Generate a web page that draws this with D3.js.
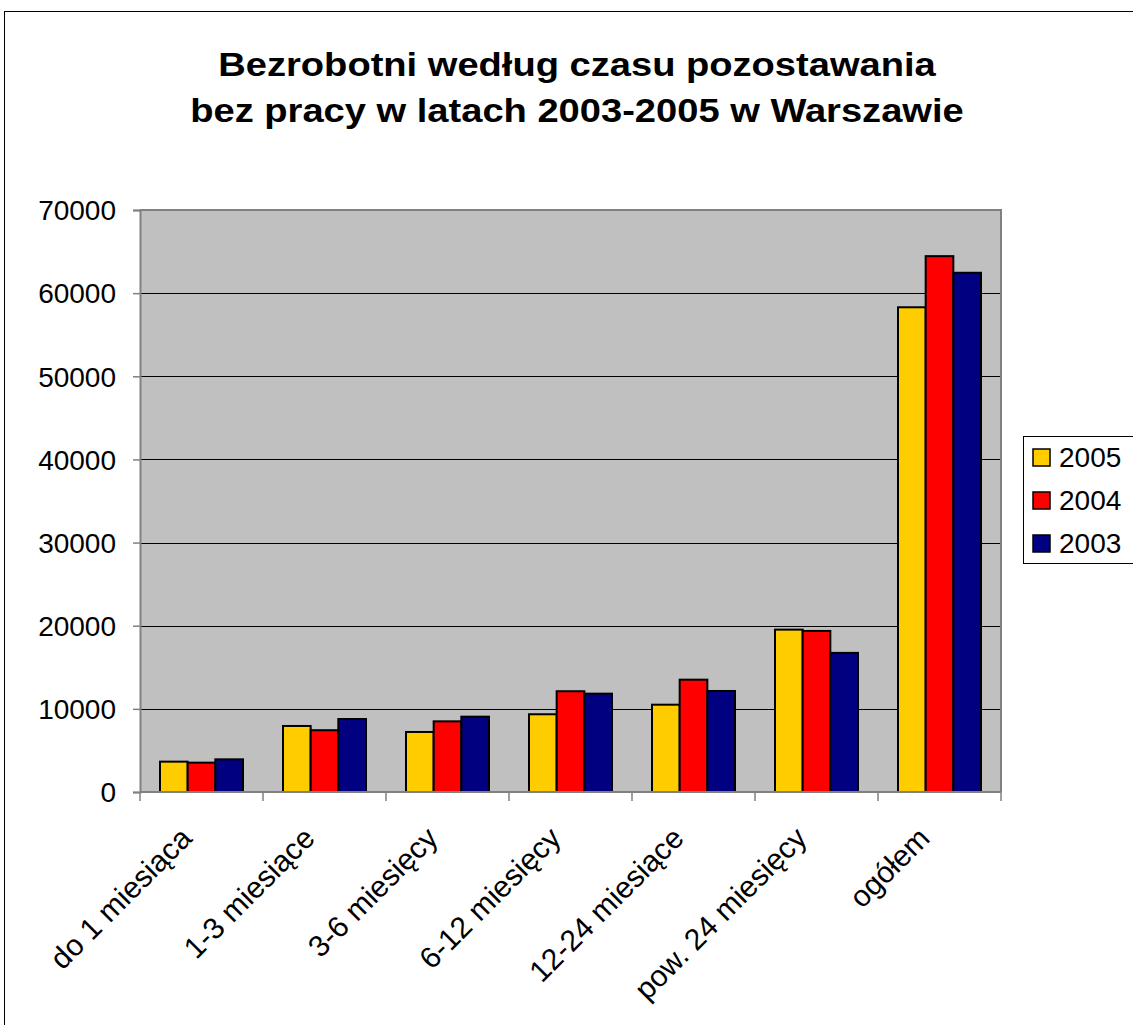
<!DOCTYPE html>
<html>
<head>
<meta charset="utf-8">
<script src="https://cdn.jsdelivr.net/npm/d3@7/dist/d3.min.js"></script>
<style>
    body { margin: 0; background: #fff; }
    text { font-family: "Liberation Sans", Arial, sans-serif; fill: #000; }
</style>
</head>
<body>
<svg id="chart" width="1133" height="1025"></svg>
<script>
// data
var categories = ["do 1 miesiąca", "1-3 miesiące", "3-6 miesięcy", "6-12 miesięcy", "12-24 miesiące", "pow. 24 miesięcy", "ogółem"];
var seriesNames = ["2005", "2004", "2003"];
var seriesColors = ["#FFCC00", "#FF0000", "#000080"];
var values2005 = [3650, 7940, 7220, 9350, 10500, 19530, 58300];
var values2004 = [3530, 7430, 8500, 12120, 13510, 19370, 64450];
var values2003 = [3930, 8780, 9060, 11830, 12150, 16730, 62450];
var yTicks = [0, 10000, 20000, 30000, 40000, 50000, 60000, 70000];
var titleLines = ["Bezrobotni według czasu pozostawania", "bez pracy w latach 2003-2005 w Warszawie"];

var seriesValues = [values2005, values2004, values2003];

var svg = d3.select("#chart");
var plot = {left: 140, right: 1001, top: 210, bottom: 792};

// outer chart frame (runs off the right and bottom edge)
svg.append("rect")
    .attr("x", 4.5).attr("y", 11.5)
    .attr("width", 1200).attr("height", 1100)
    .attr("fill", "none")
    .attr("stroke", "#000")
    .attr("stroke-width", 1);

// title
svg.selectAll(".title")
    .data(titleLines)
    .enter().append("text")
    .attr("class", "title")
    .attr("text-anchor", "middle")
    .attr("font-weight", "bold")
    .attr("font-size", "33px")
    .attr("transform", function (d, i) {
        return "translate(577," + (76 + i * 46) + ") scale(1.155,1)";
    })
    .text(function (d) { return d; });

var x0 = d3.scaleBand()
    .domain(categories)
    .range([plot.left, plot.right]);

var gap = 20;
var x1 = d3.scaleBand()
    .domain(seriesNames)
    .range([gap, x0.bandwidth() - gap]);

var y = d3.scaleLinear()
    .domain([0, 70000])
    .range([plot.bottom, plot.top]);

// plot background
svg.append("rect")
    .attr("x", plot.left).attr("y", plot.top)
    .attr("width", plot.right - plot.left)
    .attr("height", plot.bottom - plot.top)
    .attr("fill", "#C0C0C0");

// gridlines
svg.append("g")
    .selectAll("line")
    .data(yTicks.filter(function (d) { return d > 0 && d < 70000; }))
    .enter().append("line")
    .attr("x1", plot.left).attr("x2", plot.right)
    .attr("y1", function (d) { return Math.round(y(d)) + 0.5; })
    .attr("y2", function (d) { return Math.round(y(d)) + 0.5; })
    .attr("stroke", "#000")
    .attr("stroke-width", 1);

// plot border (top + right)
svg.append("path")
    .attr("d", "M" + plot.left + "," + plot.top + "H" + plot.right + "V" + plot.bottom)
    .attr("fill", "none")
    .attr("stroke", "#808080")
    .attr("stroke-width", 2);

// bars
var groups = svg.append("g").selectAll("g")
    .data(categories)
    .enter().append("g")
    .attr("transform", function (d) { return "translate(" + x0(d) + ",0)"; });

groups.selectAll("rect")
    .data(function (d, ci) {
        return seriesNames.map(function (s, si) {
            return {series: s, value: seriesValues[si][ci], color: seriesColors[si]};
        });
    })
    .enter().append("rect")
    .attr("x", function (d) { return x1(d.series); })
    .attr("y", function (d) { return y(d.value); })
    .attr("width", x1.bandwidth())
    .attr("height", function (d) { return plot.bottom - y(d.value); })
    .attr("fill", function (d) { return d.color; })
    .attr("stroke", "#000")
    .attr("stroke-width", 2);

// y axis
var yAxis = svg.append("g")
    .attr("transform", "translate(" + plot.left + ",0)")
    .call(d3.axisLeft(y).tickValues(yTicks).tickSize(7).tickPadding(0).tickFormat(d3.format("d")));
yAxis.select(".domain").attr("stroke", "#808080").attr("stroke-width", 2);
yAxis.selectAll(".tick line").attr("stroke", "#808080").attr("stroke-width", 1.5);
yAxis.selectAll(".tick text")
    .attr("font-size", "28px")
    .attr("font-family", null)
    .attr("x", -24)
    .attr("dy", "0.35em");

// x axis (ticks between the categories)
var boundaries = categories.map(function (c) { return x0(c); }).concat([plot.right]);
svg.append("line")
    .attr("x1", plot.left).attr("x2", plot.right)
    .attr("y1", plot.bottom).attr("y2", plot.bottom)
    .attr("stroke", "#808080").attr("stroke-width", 2);
svg.append("g").selectAll("line")
    .data(boundaries)
    .enter().append("line")
    .attr("x1", function (d) { return d; }).attr("x2", function (d) { return d; })
    .attr("y1", plot.bottom).attr("y2", plot.bottom + 9)
    .attr("stroke", "#808080").attr("stroke-width", 1.5);

svg.append("g").selectAll("text")
    .data(categories)
    .enter().append("text")
    .attr("text-anchor", "end")
    .attr("font-size", "30px")
    .attr("transform", function (d) {
        var cx = x0(d) + x0.bandwidth() / 2 - 8;
        return "translate(" + cx + "," + (plot.bottom + 48) + ") rotate(-45)";
    })
    .text(function (d) { return d; });

// legend
var legend = svg.append("g").attr("transform", "translate(1023,436)");
legend.append("rect")
    .attr("x", 0.5).attr("y", 0.5)
    .attr("width", 130).attr("height", 127)
    .attr("fill", "#fff")
    .attr("stroke", "#000");

var items = legend.selectAll(".item")
    .data(seriesNames)
    .enter().append("g")
    .attr("class", "item")
    .attr("transform", function (d, i) { return "translate(0," + (21 + i * 43) + ")"; });

items.append("rect")
    .attr("x", 10).attr("y", -8)
    .attr("width", 17).attr("height", 17)
    .attr("fill", function (d, i) { return seriesColors[i]; })
    .attr("stroke", "#000")
    .attr("stroke-width", 1.5);

items.append("text")
    .attr("x", 36).attr("y", 10)
    .attr("font-size", "28px")
    .text(function (d) { return d; });
</script>
</body>
</html>
